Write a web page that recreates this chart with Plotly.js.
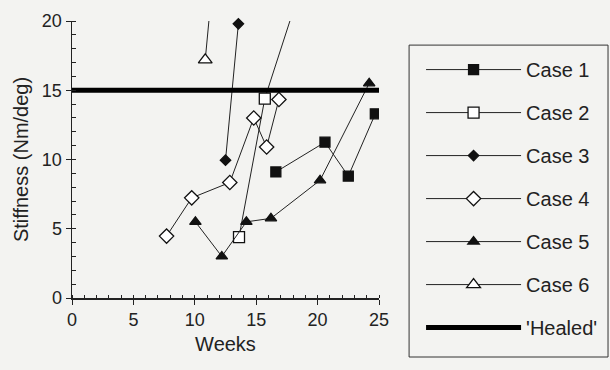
<!DOCTYPE html>
<html>
<head>
<meta charset="utf-8">
<script src="https://cdn.plot.ly/plotly-3.0.1.min.js"></script>
<style>html,body{margin:0;padding:0;background:#f3f3f1;}</style>
</head>
<body>
<div id="chart" style="width:610px;height:370px;"></div>
<script>
// Data
var case1Weeks = [16.6, 20.6, 22.5, 24.7];
var case1Stiff = [9.1, 11.25, 8.8, 13.3];
var case2Weeks = [13.6, 15.7, 17.8];
var case2Stiff = [4.4, 14.4, 20.15];
var case3Weeks = [12.5, 13.55];
var case3Stiff = [9.95, 19.8];
var case4Weeks = [7.7, 9.75, 12.85, 14.8, 15.85, 16.85];
var case4Stiff = [4.47, 7.23, 8.34, 13.0, 10.9, 14.33];
var case5Weeks = [10.05, 12.2, 14.2, 16.2, 20.2, 24.2];
var case5Stiff = [5.5, 3.0, 5.5, 5.75, 8.5, 15.5];
var case6Weeks = [10.85, 12.0];
var case6Stiff = [17.2, 28];
var healedWeeks = [0, 25];
var healedStiff = [15, 15];
var seriesNames = ['Case 1', 'Case 2', 'Case 3', 'Case 4', 'Case 5', 'Case 6', "'Healed'"];

var font = 'Liberation Sans, Arial, Helvetica, sans-serif';
function series(name, x, y, symbol, size, fill, group) {
  return {
    type: 'scatter', mode: 'lines+markers', name: name, x: x, y: y,
    legendgroup: group,
    line: {color: '#222', width: 1},
    marker: {symbol: symbol, size: size, color: fill,
             line: {color: '#111', width: 1.3}}
  };
}
var traces = [
  series(seriesNames[0], case1Weeks, case1Stiff, 'square', 10, '#111', 'g1'),
  series(seriesNames[1], case2Weeks, case2Stiff, 'square', 11, '#fff', 'g2'),
  series(seriesNames[2], case3Weeks, case3Stiff, 'diamond', 8, '#111', 'g3'),
  series(seriesNames[3], case4Weeks, case4Stiff, 'diamond', 11, '#fff', 'g4'),
  series(seriesNames[4], case5Weeks, case5Stiff, 'triangle-up', 10, '#111', 'g5'),
  series(seriesNames[5], case6Weeks, case6Stiff, 'triangle-up', 12, '#fff', 'g6'),
  {type: 'scatter', mode: 'lines', name: seriesNames[6], x: healedWeeks, y: healedStiff,
   legendgroup: 'g7', line: {color: '#000', width: 5}}
];
traces[2].cliponaxis = false;

var layout = {
  width: 610, height: 370,
  margin: {l: 72, r: 231, t: 21, b: 72, autoexpand: false},
  paper_bgcolor: '#f3f3f1', plot_bgcolor: '#f3f3f1',
  font: {family: font, color: '#222', size: 18},
  showlegend: true,
  legend: {
    x: 1.137, xanchor: 'left', y: 0.895, yanchor: 'top',
    borderwidth: 0, bgcolor: 'rgba(0,0,0,0)',
    font: {family: font, size: 20, color: '#222'},
    tracegroupgap: 14, itemwidth: 95, maxheight: 340
  },
  shapes: [{type: 'rect', xref: 'paper', yref: 'paper',
            x0: 1.098, x1: 1.746, y0: -0.213, y1: 0.913,
            line: {color: '#333', width: 1}, fillcolor: 'rgba(0,0,0,0)', layer: 'below'}],
  xaxis: {
    range: [0, 25], tickvals: [0, 5, 10, 15, 20, 25], ticks: 'outside', ticklen: 5,
    tickcolor: '#222', showline: true, linecolor: '#222', linewidth: 1.5,
    showgrid: false, zeroline: false,
    minor: {dtick: 1, ticks: 'inside', ticklen: 3, tickcolor: '#222', showgrid: false},
    tickfont: {size: 18}, title: {text: 'Weeks', font: {size: 20}, standoff: 8}
  },
  yaxis: {
    range: [0, 20], tickvals: [0, 5, 10, 15, 20], ticks: 'outside', ticklen: 5,
    tickcolor: '#222', showline: true, linecolor: '#222', linewidth: 1.5,
    showgrid: false, zeroline: false,
    minor: {dtick: 1, ticks: 'inside', ticklen: 4, tickcolor: '#222', showgrid: false},
    tickfont: {size: 18}, title: {text: 'Stiffness (Nm/deg)', font: {size: 20}, standoff: 8}
  }
};
Plotly.newPlot('chart', traces, layout, {displayModeBar: false, staticPlot: true});
</script>
</body>
</html>
